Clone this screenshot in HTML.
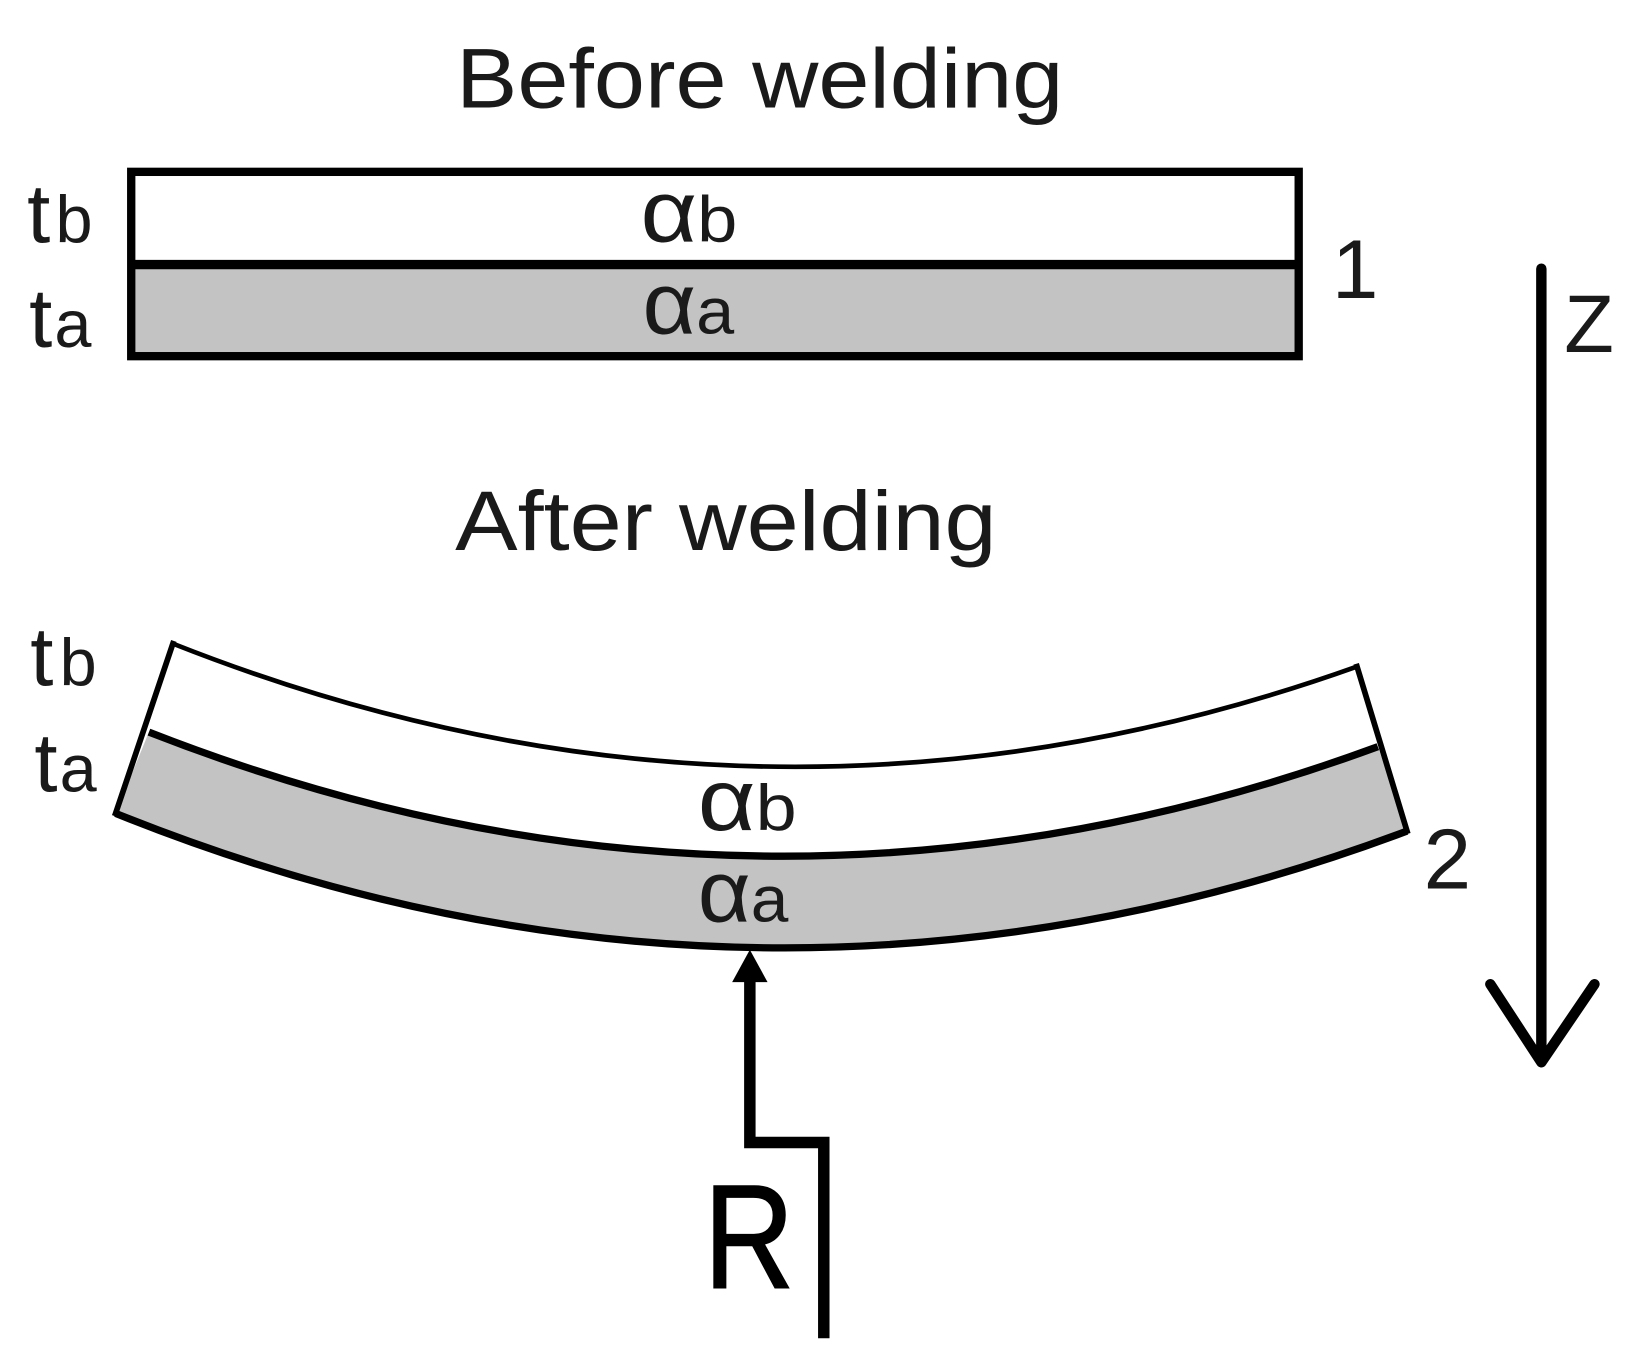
<!DOCTYPE html>
<html><head><meta charset="utf-8"><style>
html,body{margin:0;padding:0;background:#fff;width:1633px;height:1369px;overflow:hidden}
svg{display:block}
text{font-family:"Liberation Sans",sans-serif;fill:#1a1a1a}
</style></head><body>
<svg width="1633" height="1369" viewBox="0 0 1568 1314.5" xmlns="http://www.w3.org/2000/svg">
<rect width="1568" height="1314.5" fill="#fff"/>
<rect x="126" y="165" width="1121" height="89" fill="#fff"/>
<rect x="126" y="254" width="1121" height="88" fill="#c3c3c3"/>
<rect x="126" y="165" width="1121" height="177" fill="none" stroke="#000" stroke-width="8"/>
<line x1="126" y1="254" x2="1247" y2="254" stroke="#000" stroke-width="9"/>
<path d="M143 703Q733 934 1323 717L1351 798Q731 1030.5 111 781Z" fill="#c3c3c3"/>
<path d="M166 618Q734.5 843 1303 640" fill="none" stroke="#000" stroke-width="4.5"/>
<path d="M143 703Q733 934 1323 717" fill="none" stroke="#000" stroke-width="7"/>
<path d="M111 781Q731 1030.5 1351 798" fill="none" stroke="#000" stroke-width="7"/>
<path d="M166 618L111 781M1303 640L1351 798" fill="none" stroke="#000" stroke-width="5.5" stroke-linecap="square"/>
<path d="M1480 258V1020M1431 945L1480 1020L1531 945" fill="none" stroke="#000" stroke-width="10" stroke-linecap="round" stroke-linejoin="round"/>
<path d="M791 1285V1097H720V940" fill="none" stroke="#000" stroke-width="11"/>
<path d="M720 912L703 943H737Z" fill="#000"/>
<text x="438" y="103" font-size="81" textLength="583" lengthAdjust="spacingAndGlyphs">Before welding</text>
<text x="437" y="528" font-size="81" textLength="520" lengthAdjust="spacingAndGlyphs">After welding</text>
<text x="26" y="233" font-size="80">t<tspan font-size="64" dx="5">b</tspan></text>
<text x="28" y="333" font-size="80">t<tspan font-size="64" dx="2">a</tspan></text>
<text x="29" y="658" font-size="80">t<tspan font-size="64" dx="6">b</tspan></text>
<text x="33" y="760" font-size="80">t<tspan font-size="64" dx="2">a</tspan></text>
<text x="615" y="232" font-size="84" textLength="93" lengthAdjust="spacingAndGlyphs">α<tspan font-size="62">b</tspan></text>
<text x="617" y="320" font-size="84" textLength="88" lengthAdjust="spacingAndGlyphs">α<tspan font-size="62">a</tspan></text>
<text x="670" y="797" font-size="84" textLength="95" lengthAdjust="spacingAndGlyphs">α<tspan font-size="62">b</tspan></text>
<text x="670" y="885" font-size="84" textLength="87" lengthAdjust="spacingAndGlyphs">α<tspan font-size="62">a</tspan></text>
<text x="1279" y="286" font-size="80">1</text>
<text x="1502" y="338" font-size="78">Z</text>
<text x="1367" y="853" font-size="82">2</text>
<text x="675.7" y="1236.5" font-size="142" textLength="87" lengthAdjust="spacingAndGlyphs" style="fill:#000;stroke:#000;stroke-width:1.5">R</text>
</svg>
</body></html>
